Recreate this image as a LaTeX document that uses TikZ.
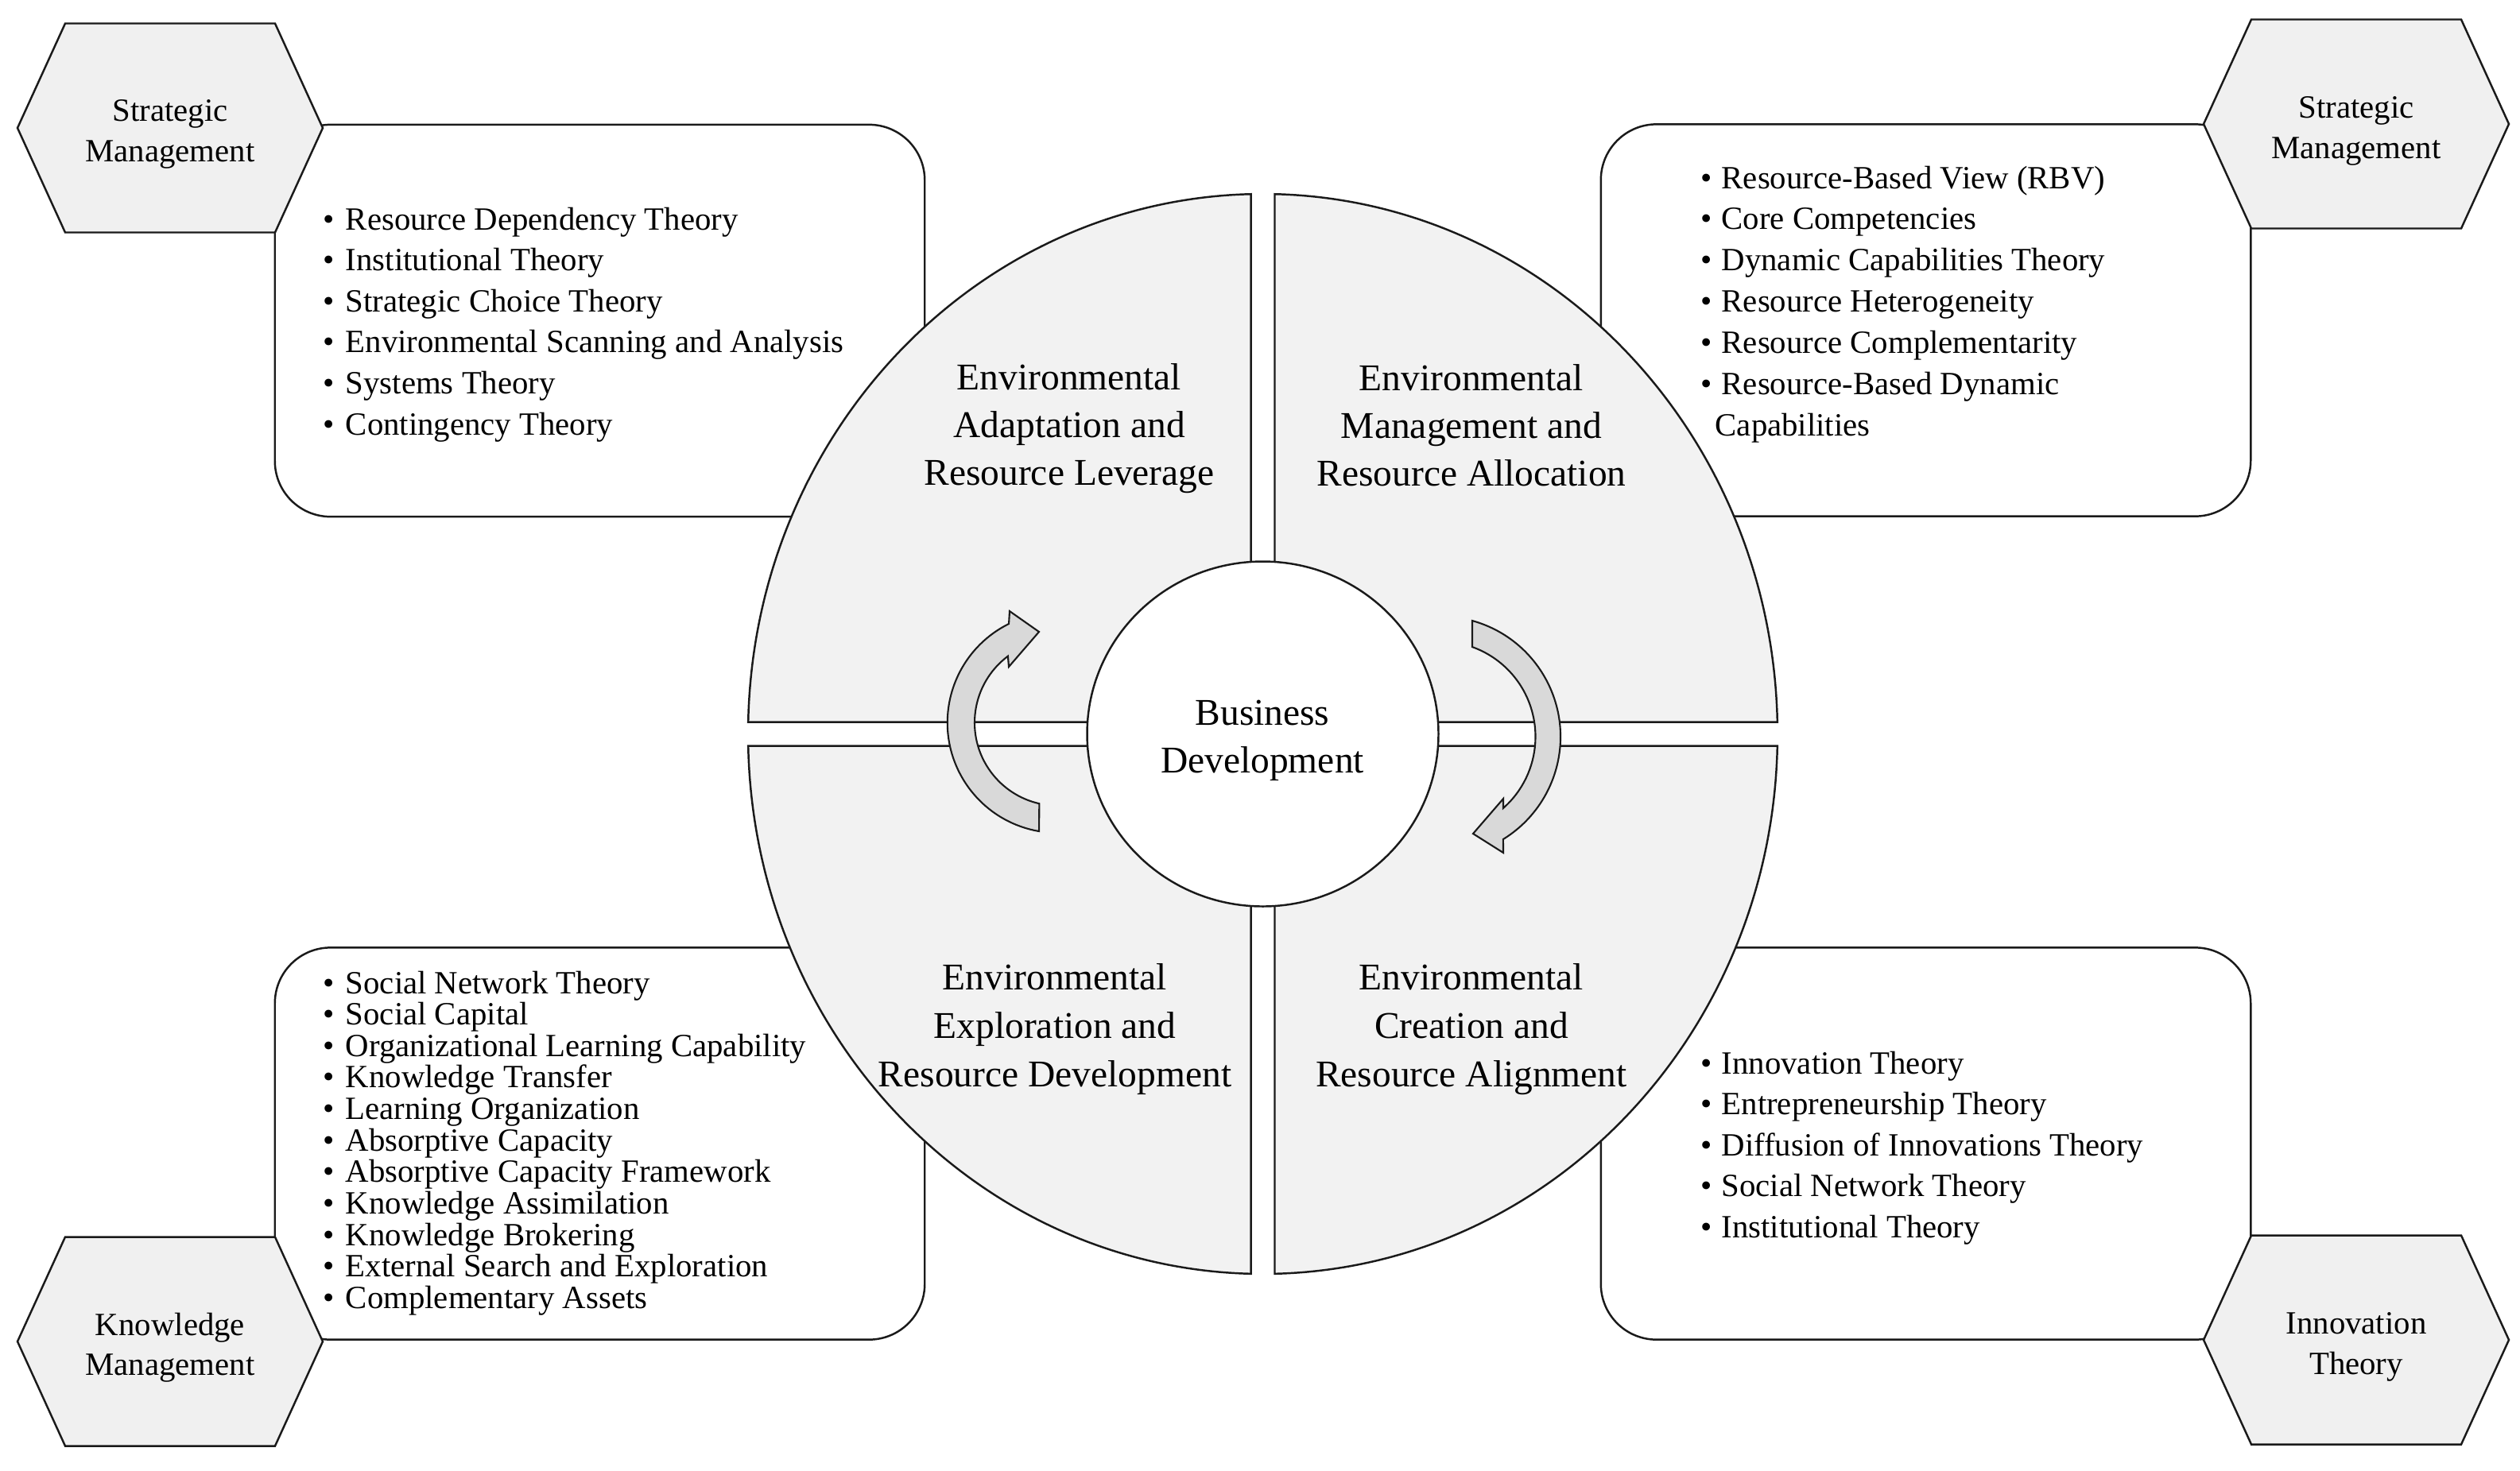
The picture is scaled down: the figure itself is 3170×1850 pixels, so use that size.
\documentclass[tikz,border=0pt]{standalone}
\usepackage{fontspec}
\setmainfont{Liberation Serif}
\usetikzlibrary{calc}
\definecolor{quadfill}{HTML}{F2F2F2}
\definecolor{hexfill}{HTML}{F0F0F0}
\definecolor{arrowfill}{HTML}{D9D9D9}
\definecolor{linec}{HTML}{1A1A1A}
\newcommand{\bulA}{\makebox[8pt][l]{\textbullet}}
\newcommand{\bulB}{\makebox[7.4pt][l]{\textbullet}}
\begin{document}
\begin{tikzpicture}[x=0.01cm, y=-0.01cm,
  listbox/.style={draw=linec, line width=0.7pt, fill=white, rounded corners=0.7cm,
    minimum width=8.17cm, minimum height=4.93cm, inner sep=0},
  hexshape/.style={draw=linec, line width=0.7pt, fill=hexfill, line join=miter},
  quad/.style={draw=linec, line width=0.7pt, fill=quadfill},
  carrow/.style={draw=linec, line width=0.6pt, fill=arrowfill, line join=miter},
  item/.style={anchor=base west, inner sep=0, text=black, font=\fontsize{11.6}{13}\selectfont},
  hextext/.style={anchor=base, inner sep=0, text=black, font=\fontsize{11.6}{13}\selectfont},
  qtext/.style={anchor=base, inner sep=0, text=black, font=\fontsize{13.5}{16}\selectfont},
  hexa/.pic={\draw[hexshape] (-192,0) -- (-132,-131.5) -- (132,-131.5) -- (192,0)
     -- (132,131.5) -- (-132,131.5) -- cycle;}
]
\useasboundingbox (0,0) rectangle (3170,1850);
\fill[white] (0,0) rectangle (3170,1850);

% list boxes
\node[listbox] (boxTL) at (754.5,403.5) {};
\node[listbox] (boxTR) at (2422.5,403) {};
\node[listbox] (boxBL) at (754.5,1439) {};
\node[listbox] (boxBR) at (2422.5,1439) {};

% hexagons
\pic at (214,161) {hexa};
\pic at (2964,156) {hexa};
\pic at (214,1688) {hexa};
\pic at (2964,1686) {hexa};

\node[hextext] (hTLa) at (214,152) {Strategic};
\node[hextext] (hTLb) at (214,203) {Management};
\node[hextext] (hTRa) at (2964,148) {Strategic};
\node[hextext] (hTRb) at (2964,199) {Management};
\node[hextext] (hBLa) at (214,1680) {Knowledge};
\node[hextext] (hBLb) at (214,1730) {Management};
\node[hextext] (hBRa) at (2964,1678) {Innovation};
\node[hextext] (hBRb) at (2964,1729) {Theory};

% quadrants
\coordinate (C) at (1588.5,923.5);
\draw[quad] (1573.5,908.5) -- ($(C)+(268.673:647.5 and 679.5)$)
  arc[start angle=268.673, end angle=181.265, x radius=647.5, y radius=679.5] -- cycle;
\draw[quad] (1603.5,908.5) -- ($(C)+(271.327:647.5 and 679.5)$)
  arc[start angle=271.327, end angle=358.735, x radius=647.5, y radius=679.5] -- cycle;
\draw[quad] (1603.5,938.5) -- ($(C)+(1.265:647.5 and 679.5)$)
  arc[start angle=1.265, end angle=88.673, x radius=647.5, y radius=679.5] -- cycle;
\draw[quad] (1573.5,938.5) -- ($(C)+(91.327:647.5 and 679.5)$)
  arc[start angle=91.327, end angle=178.735, x radius=647.5, y radius=679.5] -- cycle;

% centre circle
\draw[draw=linec, line width=0.7pt, fill=white] (C) ellipse[x radius=221, y radius=217];

% circular arrows
\coordinate (LA) at (1330.5,909.3);
\draw[carrow] ($(LA)+(99.75:138.7)$) arc[start angle=99.75, end angle=243.7, radius=138.7]
  -- (1270,769) -- (1307,795) -- (1269,839)
  -- ($(LA)+(233.2:104.5)$) arc[start angle=233.2, end angle=102.8, radius=104.5] -- cycle;
\coordinate (RA) at (1811.5,927);
\draw[carrow] ($(RA)+(-74.5:151.5)$) arc[start angle=-74.5, end angle=58.4, radius=151.5]
  -- (1891,1073) -- (1853,1049) -- (1891,1005)
  -- ($(RA)+(48.5:120)$) arc[start angle=48.5, end angle=-70.3, radius=120] -- cycle;

% quadrant texts
\foreach \itm [count=\i] in {{Environmental},{Adaptation and},{Resource Leverage}}
  \node[qtext] (qTL\i) at (1345,{490+60*(\i-1)}) {\itm};
\foreach \itm [count=\i] in {{Environmental},{Management and},{Resource Allocation}}
  \node[qtext] (qTR\i) at (1851,{491+60*(\i-1)}) {\itm};
\foreach \itm [count=\i] in {{Environmental},{Exploration and},{Resource Development}}
  \node[qtext] (qBL\i) at (1327,{1245+61*(\i-1)}) {\itm};
\foreach \itm [count=\i] in {{Environmental},{Creation and},{Resource Alignment}}
  \node[qtext] (qBR\i) at (1851,{1245+61*(\i-1)}) {\itm};

\node[qtext] (bd1) at (1588,912) {Business};
\node[qtext] (bd2) at (1588,972) {Development};

% lists
\foreach \itm [count=\i] in {{Resource Dependency Theory},{Institutional Theory},{Strategic Choice Theory},{Environmental Scanning and Analysis},{Systems Theory},{Contingency Theory}}
  \node[item] (lTL\i) at (406,{289+51.6*(\i-1)}) {\bulA\itm};
\foreach \itm [count=\i] in {{Resource-Based View (RBV)},{Core Competencies},{Dynamic Capabilities Theory},{Resource Heterogeneity},{Resource Complementarity},{Resource-Based Dynamic}}
  \node[item] (lTR\i) at (2139,{237+51.8*(\i-1)}) {\bulB\itm};
\node[item] (lTR7) at (2157,548) {Capabilities};
\foreach \itm [count=\i] in {{Innovation Theory},{Entrepreneurship Theory},{Diffusion of Innovations Theory},{Social Network Theory},{Institutional Theory}}
  \node[item] (lBR\i) at (2139,{1351+51.6*(\i-1)}) {\bulB\itm};
\foreach \itm [count=\i] in {{Social Network Theory},{Social Capital},{Organizational Learning Capability},{Knowledge Transfer},{Learning Organization},{Absorptive Capacity},{Absorptive Capacity Framework},{Knowledge Assimilation},{Knowledge Brokering},{External Search and Exploration},{Complementary Assets}}
  \node[item] (lBL\i) at (406,{1250+39.65*(\i-1)}) {\bulA\itm};
\end{tikzpicture}
\end{document}
